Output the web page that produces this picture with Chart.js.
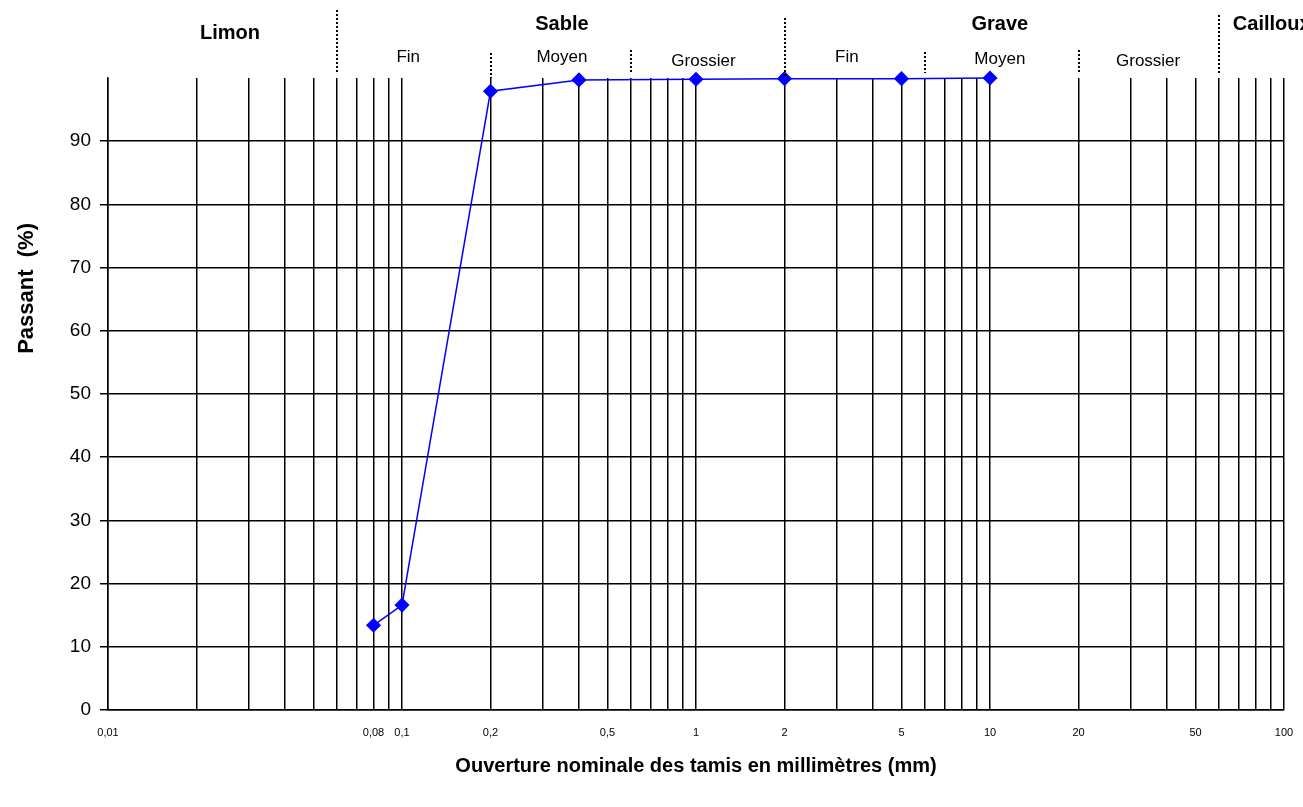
<!DOCTYPE html>
<html>
<head>
<meta charset="utf-8">
<script src="https://cdn.jsdelivr.net/npm/chart.js@4"></script>
<style>
  html, body { margin: 0; padding: 0; background: #fff; }
  #wrap { width: 1303px; height: 807px; }
</style>
</head>
<body>
<div id="wrap"><canvas id="courbe"></canvas></div>
<script>
// ouverture des tamis (mm) et pourcentage passant
const tamis = [0.08, 0.1, 0.2, 0.4, 1, 2, 5, 10];
const passant = [13.4, 16.6, 97.9, 99.7, 99.8, 99.9, 99.9, 100];

// graduations
const xLabels = [0.01, 0.08, 0.1, 0.2, 0.5, 1, 2, 5, 10, 20, 50, 100];
const yLabels = [0, 10, 20, 30, 40, 50, 60, 70, 80, 90];

// limites des classes granulaires (mm)
const limites = [0.06, 0.2, 0.6, 2, 6, 20, 60];
const classes = ['Limon', 'Sable', 'Grave', 'Cailloux'];
const sousClasses = ['Fin', 'Moyen', 'Grossier', 'Fin', 'Moyen', 'Grossier'];

// grid lines on every 1..9 of each decade
const gridValues = [];
for (let e = -2; e <= 2; e++) {
  for (let m = 1; m <= 9; m++) {
    const v = parseFloat((m * Math.pow(10, e)).toPrecision(3));
    if (v <= 100) gridValues.push(v);
  }
}

const FONT = "'Liberation Sans', Arial, sans-serif";

const zonesPlugin = {
  id: 'zones',
  afterDraw(chart) {
    const { ctx, chartArea } = chart;
    const x = chart.scales.x;
    const top = chartArea.top;
    ctx.save();

    // dotted limits above the plot
    const lineFrom = [10, 53, 50, 18, 52, 50, 15];
    const lineTo = [top - 5, top, top - 6, top, top - 5, top - 5, top - 5];
    ctx.strokeStyle = '#000';
    ctx.lineWidth = 2;
    ctx.setLineDash([2, 2]);
    limites.forEach((v, i) => {
      const px = Math.round(x.getPixelForValue(v));
      ctx.beginPath();
      ctx.moveTo(px, lineFrom[i]);
      ctx.lineTo(px, lineTo[i]);
      ctx.stroke();
    });
    ctx.setLineDash([]);

    // main class names
    ctx.fillStyle = '#000';
    ctx.textBaseline = 'middle';
    ctx.font = 'bold 20px ' + FONT;
    const classAt = [[0.026, 33, 'center'], [0.35, 24, 'center'], [10.8, 24, 'center'], [67, 24, 'left']];
    classes.forEach((c, i) => {
      ctx.textAlign = classAt[i][2];
      ctx.fillText(c, x.getPixelForValue(classAt[i][0]), classAt[i][1]);
    });

    // sub classes
    ctx.font = '17px ' + FONT;
    ctx.textAlign = 'center';
    const subAt = [[0.105, 57], [0.35, 57], [1.06, 61], [3.26, 57], [10.8, 59], [34.5, 61]];
    sousClasses.forEach((c, i) => {
      ctx.fillText(c, x.getPixelForValue(subAt[i][0]), subAt[i][1]);
    });

    // y axis title
    ctx.font = 'bold 22px ' + FONT;
    ctx.translate(27, chartArea.top + (chartArea.bottom - chartArea.top) * 0.333);
    ctx.rotate(-Math.PI / 2);
    ctx.fillText('Passant  (%)', 0, 0);
    ctx.restore();
  }
};

new Chart(document.getElementById('courbe'), {
  type: 'line',
  data: {
    datasets: [{
      data: tamis.map((t, i) => ({ x: t, y: passant[i] })),
      borderColor: '#0000ff',
      backgroundColor: '#0000ff',
      borderWidth: 1.5,
      pointStyle: 'rectRot',
      pointRadius: 6.5,
      pointHoverRadius: 6.5,
      tension: 0,
      clip: false
    }]
  },
  options: {
    responsive: true,
    maintainAspectRatio: false,
    animation: false,
    layout: { padding: { top: 78, right: 19, left: 0, bottom: 0 } },
    plugins: {
      legend: { display: false },
      tooltip: { enabled: false }
    },
    scales: {
      x: {
        type: 'logarithmic',
        min: 0.01,
        max: 100,
        afterBuildTicks: s => { s.ticks = gridValues.map(v => ({ value: v })); },
        afterFit: s => { s.height = 97; s.paddingLeft = 0; s.paddingRight = 0; },
        grid: { color: '#000', lineWidth: 1.5, drawTicks: false },
        border: { color: '#000', width: 1.5 },
        ticks: {
          autoSkip: false,
          maxRotation: 0,
          padding: 16,
          color: '#000',
          font: { family: FONT, size: 11 },
          callback: v => {
            const hit = xLabels.find(l => Math.abs(l - v) < l * 1e-6);
            return hit === undefined ? '' : String(hit).replace('.', ',');
          }
        },
        title: {
          display: true,
          text: 'Ouverture nominale des tamis en millimètres (mm)',
          color: '#000',
          font: { family: FONT, size: 20, weight: 'bold' },
          padding: { top: 0, bottom: 29 }
        }
      },
      y: {
        min: 0,
        max: 100,
        afterBuildTicks: s => { s.ticks = yLabels.map(v => ({ value: v })); },
        afterFit: s => { s.width = 108; },
        grid: { color: '#000', lineWidth: 1.5, tickLength: 8 },
        border: { color: '#000', width: 1.5 },
        ticks: {
          padding: 9,
          color: '#000',
          font: { family: FONT, size: 19 }
        }
      }
    }
  },
  plugins: [zonesPlugin]
});
</script>
</body>
</html>
